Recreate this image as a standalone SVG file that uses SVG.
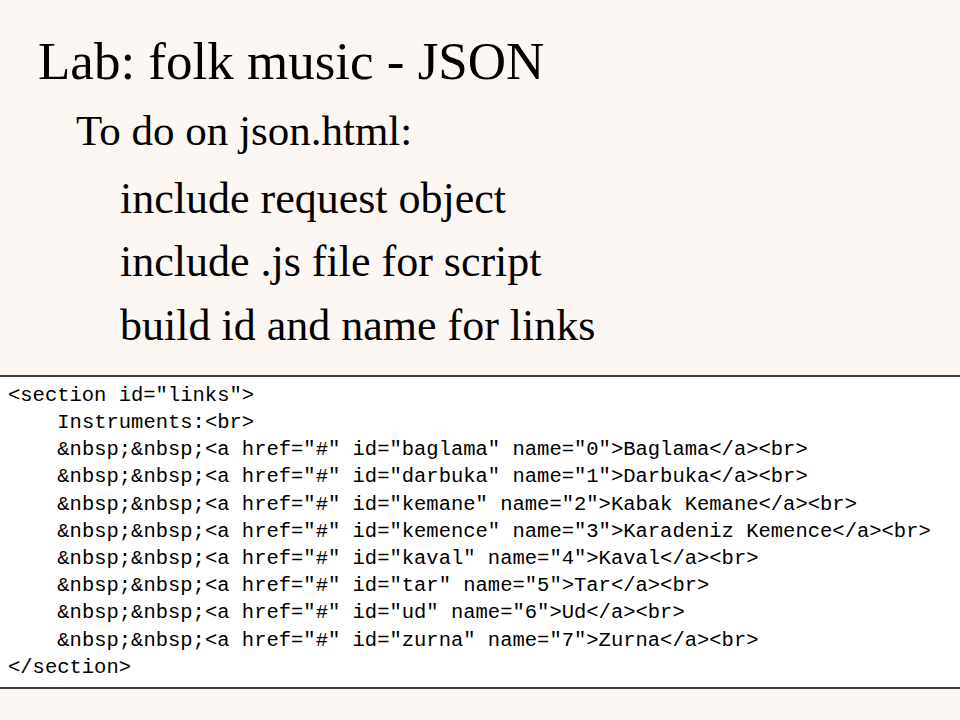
<svg xmlns="http://www.w3.org/2000/svg" width="960" height="720" viewBox="0 0 960 720">
<style>
.ser{font-family:"Liberation Serif","Times New Roman",serif;fill:#000}
.t1{font-size:53px}
.t2{font-size:43px}
.t3{font-size:44px}
.code{font-family:"Liberation Mono","DejaVu Sans Mono",monospace;font-size:20.5px;fill:#000;white-space:pre}
</style>
<rect x="0" y="0" width="960" height="720" fill="#fcf7f3"/>
<g id="title"><text class="ser t1" x="38" y="79">Lab: folk music - JSON</text></g>
<g id="bullets">
<text class="ser t2" x="76" y="145">To do on json.html:</text>
<text class="ser t3" x="120" y="213">include request object</text>
<text class="ser t3" x="120" y="276">include .js file for script</text>
<text class="ser t3" x="120" y="340">build id and name for links</text>
</g>
<g id="codebox">
<rect x="0" y="376" width="960" height="312" fill="#ffffff"/>
<line x1="0" y1="376" x2="960" y2="376" stroke="#000" stroke-width="1.5"/>
<line x1="0" y1="688" x2="960" y2="688" stroke="#000" stroke-width="1.5"/>
<text class="code" x="8" y="401">&lt;section id="links"&gt;</text>
<text class="code" x="57.3" y="428">Instruments:&lt;br&gt;</text>
<text class="code" x="57.3" y="455">&amp;nbsp;&amp;nbsp;&lt;a href="#" id="baglama" name="0"&gt;Baglama&lt;/a&gt;&lt;br&gt;</text>
<text class="code" x="57.3" y="482">&amp;nbsp;&amp;nbsp;&lt;a href="#" id="darbuka" name="1"&gt;Darbuka&lt;/a&gt;&lt;br&gt;</text>
<text class="code" x="57.3" y="510">&amp;nbsp;&amp;nbsp;&lt;a href="#" id="kemane" name="2"&gt;Kabak Kemane&lt;/a&gt;&lt;br&gt;</text>
<text class="code" x="57.3" y="537">&amp;nbsp;&amp;nbsp;&lt;a href="#" id="kemence" name="3"&gt;Karadeniz Kemence&lt;/a&gt;&lt;br&gt;</text>
<text class="code" x="57.3" y="564">&amp;nbsp;&amp;nbsp;&lt;a href="#" id="kaval" name="4"&gt;Kaval&lt;/a&gt;&lt;br&gt;</text>
<text class="code" x="57.3" y="591">&amp;nbsp;&amp;nbsp;&lt;a href="#" id="tar" name="5"&gt;Tar&lt;/a&gt;&lt;br&gt;</text>
<text class="code" x="57.3" y="618">&amp;nbsp;&amp;nbsp;&lt;a href="#" id="ud" name="6"&gt;Ud&lt;/a&gt;&lt;br&gt;</text>
<text class="code" x="57.3" y="646">&amp;nbsp;&amp;nbsp;&lt;a href="#" id="zurna" name="7"&gt;Zurna&lt;/a&gt;&lt;br&gt;</text>
<text class="code" x="8" y="673">&lt;/section&gt;</text>
</g>
</svg>
